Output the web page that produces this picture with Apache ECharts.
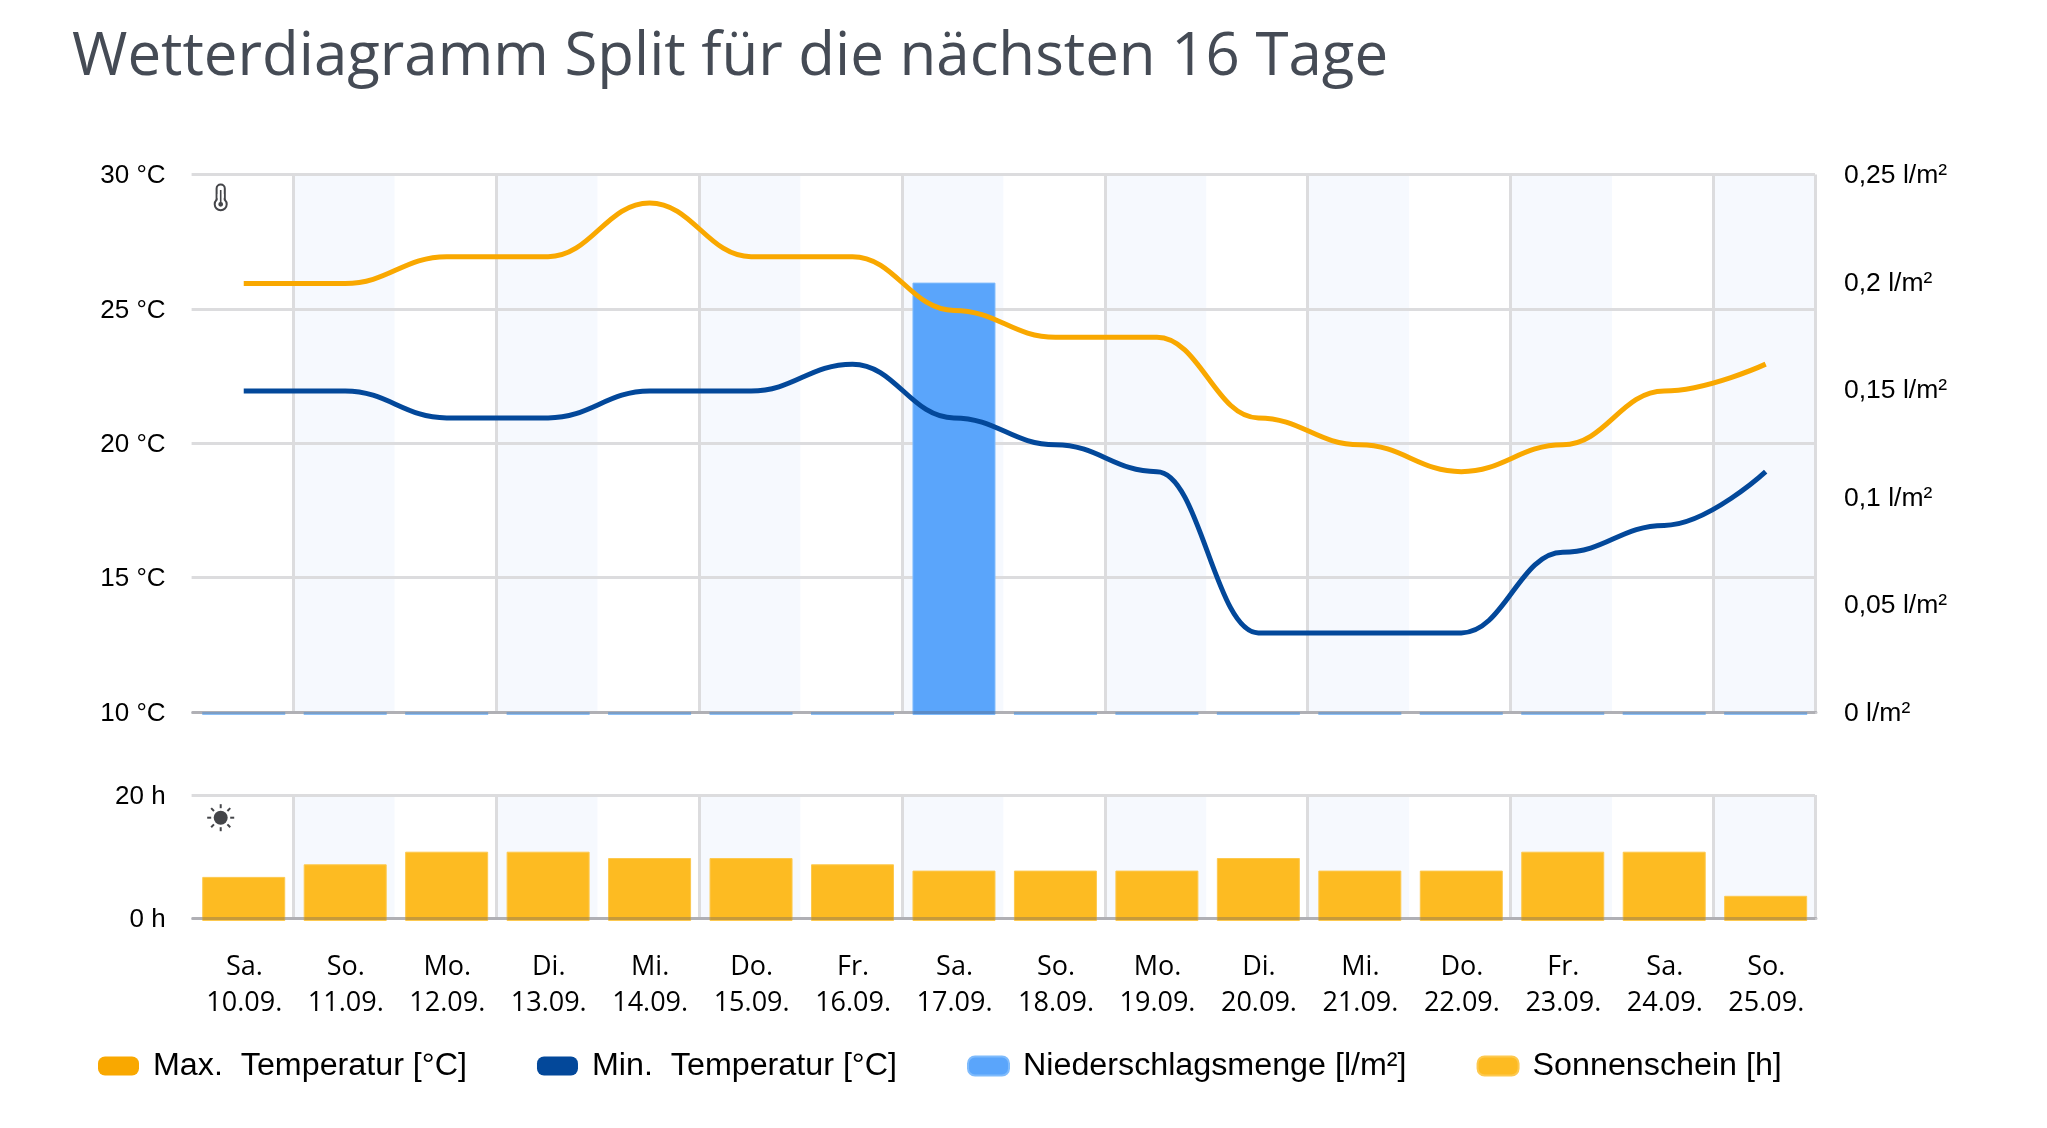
<!DOCTYPE html>
<html>
<head>
<meta charset="utf-8">
<title>Wetterdiagramm Split</title>
<style>
html, body { margin: 0; padding: 0; background: #fff; }
#chart { width: 2047px; height: 1128px; }
</style>
<script src="https://cdn.jsdelivr.net/npm/echarts@6/dist/echarts.min.js"></script>
</head>
<body>
<div id="chart"></div>
<script>
var days = ['Sa.', 'So.', 'Mo.', 'Di.', 'Mi.', 'Do.', 'Fr.', 'Sa.', 'So.', 'Mo.', 'Di.', 'Mi.', 'Do.', 'Fr.', 'Sa.', 'So.'];
var dates = ['10.09.', '11.09.', '12.09.', '13.09.', '14.09.', '15.09.', '16.09.', '17.09.', '18.09.', '19.09.', '20.09.', '21.09.', '22.09.', '23.09.', '24.09.', '25.09.'];
var maxTemp = [26, 26, 27, 27, 29, 27, 27, 25, 24, 24, 21, 20, 19, 20, 22, 23];
var minTemp = [22, 22, 21, 21, 22, 22, 23, 21, 20, 19, 13, 13, 13, 16, 17, 19];
var rain = [0, 0, 0, 0, 0, 0, 0, 0.2, 0, 0, 0, 0, 0, 0, 0, 0];
var sun = [7, 9, 11, 11, 10, 10, 9, 8, 8, 8, 10, 8, 8, 11, 11, 4];

var categories = days.map(function (d, i) { return d + '\n' + dates[i]; });

var LEFT = 192.6, RIGHT = 231;
var BACK = { left: LEFT - 1, right: RIGHT + 1 };     // stripes and vertical lines
var BASE = { left: LEFT, right: RIGHT };             // horizontal base lines
var MARK = { left: LEFT + 0.4, right: RIGHT - 0.4 }; // curves and bars
var TEXT = { left: LEFT + 1, right: RIGHT - 1 };     // day labels
var ICON = '#444549';
var SWATCH = 'path://M7 0H34A7 7 0 0 1 41 7V12A7 7 0 0 1 34 19H7A7 7 0 0 1 0 12V7A7 7 0 0 1 7 0Z';
// verticalAlign top with a small lineHeight drops the label a little below its grid line
var tickLabel = { fontFamily: 'Liberation Sans', fontSize: 26, color: '#000', verticalAlign: 'top', lineHeight: 3 };
var hLine = { lineStyle: { color: '#dcdcde', width: 3 } };
var noLine = { show: false };

function gridAt(x, top, height) {
    return { left: x.left, right: x.right, top: top, height: height };
}

// stripes and vertical lines sit at the back, on their own grid
function stripeAxis(gridIndex) {
    return {
        type: 'category', gridIndex: gridIndex, data: categories, z: 0,
        axisLine: noLine, axisTick: noLine, axisLabel: noLine,
        splitArea: { show: true, interval: 0, areaStyle: { color: ['rgba(255,255,255,0)', '#f6f9fe'] } },
        splitLine: {
            show: true,
            interval: function (i) { return i % 2 === 1; },
            lineStyle: { color: '#dcdcde', width: 3 }
        }
    };
}

// base line, drawn above the bars
function baseAxis(gridIndex) {
    return {
        type: 'category', gridIndex: gridIndex, data: categories, z: 3,
        axisLine: { show: true, lineStyle: { color: 'rgba(95,95,105,0.35)', width: 3 } },
        axisTick: noLine, splitLine: noLine, axisLabel: noLine
    };
}

function hiddenX(gridIndex) {
    return { type: 'category', gridIndex: gridIndex, data: categories, show: false };
}
function hiddenY(gridIndex, min, max) {
    return { type: 'value', gridIndex: gridIndex, min: min, max: max, show: false };
}

// thermometer, droplets and sun glyphs
function drop(cx, cy, r, tx, ty) {
    var dx = tx - cx, dy = ty - cy, len = Math.sqrt(dx * dx + dy * dy);
    var nx = -dy / len * r, ny = dx / len * r;
    return [
        { type: 'circle', shape: { cx: cx, cy: cy, r: r }, style: { fill: ICON } },
        { type: 'polygon', shape: { points: [[tx, ty], [cx + nx, cy + ny], [cx - nx, cy - ny]] }, style: { fill: ICON } }
    ];
}
var glyphs = [
    { type: 'rect', shape: { x: 216.6, y: 184.5, width: 8.2, height: 24, r: 4 }, style: { fill: '#fff', stroke: ICON, lineWidth: 2 } },
    { type: 'circle', shape: { cx: 220.7, cy: 204.3, r: 6 }, style: { fill: '#fff', stroke: ICON, lineWidth: 2 } },
    { type: 'rect', shape: { x: 217.7, y: 194, width: 6, height: 8 }, style: { fill: '#fff' } },
    { type: 'line', shape: { x1: 220.7, y1: 190, x2: 220.7, y2: 204 }, style: { stroke: ICON, lineWidth: 1.6 } },
    { type: 'circle', shape: { cx: 220.7, cy: 204.3, r: 2.4 }, style: { fill: ICON } },
    { type: 'circle', shape: { cx: 220.7, cy: 817.7, r: 7 }, style: { fill: ICON } }
].concat(
    drop(1792.7, 205.7, 5, 1797.3, 198.3),
    drop(1795.7, 190.7, 3.8, 1800, 184),
    drop(1784, 196.7, 3, 1787.7, 192.7)
);
for (var k = 0; k < 8; k++) {
    var a = k * Math.PI / 4;
    glyphs.push({
        type: 'line',
        shape: { x1: 220.7 + 9.5 * Math.cos(a), y1: 817.7 + 9.5 * Math.sin(a), x2: 220.7 + 13.5 * Math.cos(a), y2: 817.7 + 13.5 * Math.sin(a) },
        style: { stroke: ICON, lineWidth: 2 }
    });
}

var rainItems = rain.map(function (v) {
    return v === 0 ? { value: v, itemStyle: { color: '#8cc0f7', borderWidth: 0 } } : v;
});

var chart = echarts.init(document.getElementById('chart'));
chart.setOption({
    animation: false,
    title: {
        text: 'Wetterdiagramm Split für die nächsten 16 Tage',
        left: 67, top: 23,
        textStyle: { fontFamily: 'Open Sans', fontWeight: 'normal', fontSize: 60, color: '#454b55' }
    },
    legend: {
        left: 93, top: 1045,
        icon: SWATCH, itemWidth: 41, itemHeight: 19, itemGap: 70,
        textStyle: { fontFamily: 'Liberation Sans', fontSize: 32.25, color: '#000', padding: [0, 0, 0, 9] },
        data: ['Max.  Temperatur [°C]', 'Min.  Temperatur [°C]', 'Niederschlagsmenge [l/m²]', 'Sonnenschein [h]']
    },
    grid: [
        gridAt(BACK, 174.5, 537.5),  // 0 stripes, temperature and rain scales
        gridAt(MARK, 176, 537.5),    // 1 curves
        gridAt(BASE, 174.5, 537.5),  // 2 base line
        gridAt(MARK, 174.5, 540.5),  // 3 rain bars
        gridAt(BACK, 795, 123),      // 4 stripes, sunshine scale
        gridAt(BASE, 795, 123),      // 5 base line
        gridAt(TEXT, 795, 123),      // 6 day labels
        gridAt(MARK, 795, 126)       // 7 sun bars
    ],
    xAxis: [
        stripeAxis(0), hiddenX(1), baseAxis(2), hiddenX(3),
        stripeAxis(4), baseAxis(5),
        {
            type: 'category', gridIndex: 6, data: categories,
            axisLine: noLine, axisTick: noLine, splitLine: noLine,
            axisLabel: {
                show: true, interval: 0, margin: 31, lineHeight: 36,
                fontFamily: 'Open Sans', fontSize: 27, color: '#000'
            }
        },
        hiddenX(7)
    ],
    yAxis: [
        {
            type: 'value', gridIndex: 0, min: 10, max: 30, interval: 5, z: 1,
            axisLine: noLine, axisTick: noLine, splitLine: hLine,
            axisLabel: Object.assign({ margin: 26, formatter: '{value} °C' }, tickLabel)
        },
        {
            type: 'value', gridIndex: 0, position: 'right', min: 0, max: 0.25, interval: 0.05, z: 1,
            axisLine: noLine, axisTick: noLine, splitLine: noLine,
            axisLabel: Object.assign({
                margin: 29,
                formatter: function (v) { return String(v).replace('.', ',') + ' l/m²'; }
            }, tickLabel, { fontSize: 26.5 })
        },
        hiddenY(1, 10, 30),
        hiddenY(2, 10, 30),
        hiddenY(3, 0, 0.25),
        {
            type: 'value', gridIndex: 4, min: 0, max: 20, interval: 20, z: 1,
            axisLine: noLine, axisTick: noLine, splitLine: hLine,
            axisLabel: Object.assign({ margin: 26, formatter: '{value} h' }, tickLabel)
        },
        hiddenY(5, 0, 20),
        hiddenY(6, 0, 20),
        hiddenY(7, 0, 20)
    ],
    series: [
        {
            name: 'Max.  Temperatur [°C]', type: 'line', data: maxTemp, xAxisIndex: 1, yAxisIndex: 2, z: 5,
            smooth: 0.42, smoothMonotone: 'x', symbol: 'none',
            itemStyle: { color: '#f9a800' }, lineStyle: { color: '#f9a800', width: 5 }
        },
        {
            name: 'Min.  Temperatur [°C]', type: 'line', data: minTemp, xAxisIndex: 1, yAxisIndex: 2, z: 5,
            smooth: 0.42, smoothMonotone: 'x', symbol: 'none',
            itemStyle: { color: '#03489a' }, lineStyle: { color: '#03489a', width: 5 }
        },
        {
            name: 'Niederschlagsmenge [l/m²]', type: 'bar', data: rainItems, xAxisIndex: 3, yAxisIndex: 4, z: 2,
            barWidth: 83, barMinHeight: 3, itemStyle: { color: '#5aa5fb', borderColor: '#7fbbfc', borderWidth: 1 }
        },
        {
            name: 'Sonnenschein [h]', type: 'bar', data: sun, xAxisIndex: 7, yAxisIndex: 8, z: 2,
            barWidth: 83, itemStyle: { color: '#fdbb22', borderColor: '#fdc94f', borderWidth: 1 }
        }
    ],
    graphic: { elements: glyphs }
});
</script>
</body>
</html>
